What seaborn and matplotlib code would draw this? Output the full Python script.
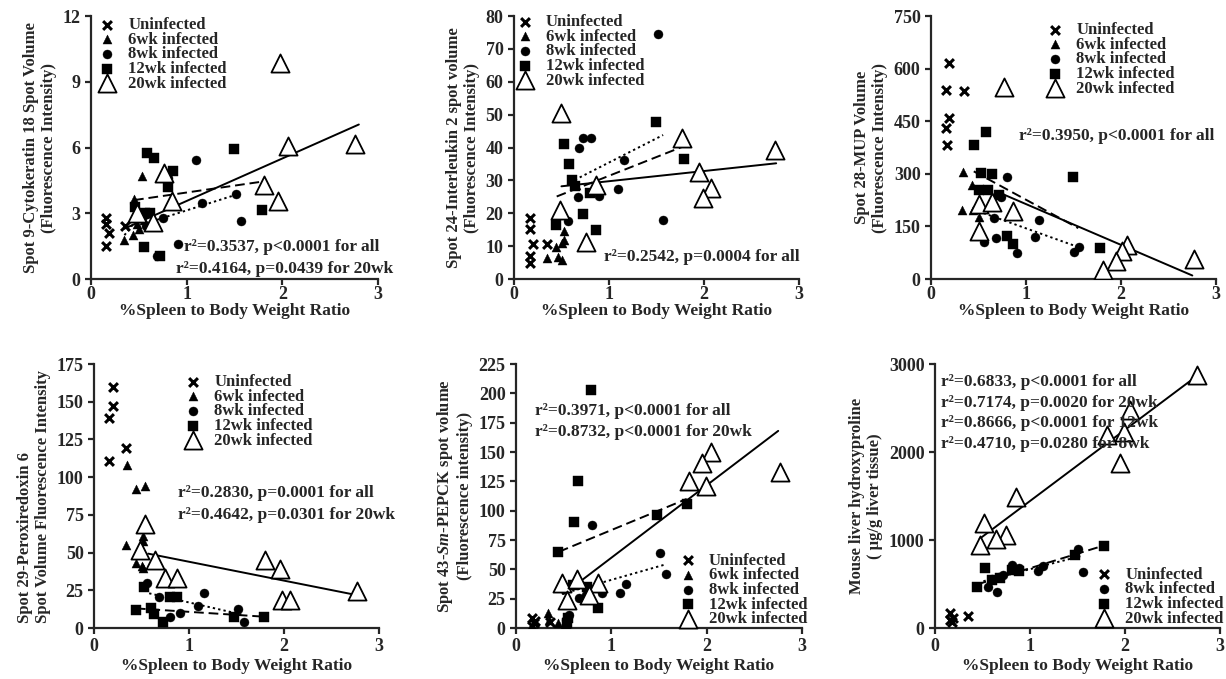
import matplotlib
matplotlib.use('Agg')
import matplotlib.pyplot as plt
import seaborn as sns

sns.set_style('ticks')
plt.rcParams['font.family'] = ['Liberation Serif', 'DejaVu Serif']
plt.rcParams['font.weight'] = 'bold'
plt.rcParams['axes.labelweight'] = 'bold'
plt.rcParams['mathtext.fontset'] = 'custom'
plt.rcParams['mathtext.rm'] = 'Liberation Serif:bold'
plt.rcParams['mathtext.it'] = 'Liberation Serif:italic:bold'
plt.rcParams['axes.linewidth'] = 1.6
plt.rcParams['xtick.major.width'] = 1.6
plt.rcParams['ytick.major.width'] = 1.6
plt.rcParams['xtick.major.size'] = 4
plt.rcParams['ytick.major.size'] = 4

groups = ['Uninfected', '6wk infected', '8wk infected', '12wk infected', '20wk infected']
xlabel = '%Spleen to Body Weight Ratio'

# ---- Spot 9 Cytokeratin 18 ----
k18_uninf_x = [0.16, 0.16, 0.19, 0.16, 0.36]
k18_uninf_y = [2.8, 2.5, 2.1, 1.5, 2.4]
k18_wk6_x = [0.35, 0.53, 0.45, 0.44, 0.50, 0.55, 0.48]
k18_wk6_y = [1.8, 4.7, 3.65, 2.0, 2.3, 2.7, 2.5]
k18_wk8_x = [1.10, 0.80, 0.75, 0.91, 1.16, 1.52, 1.57, 0.69, 0.58]
k18_wk8_y = [5.45, 4.6, 2.8, 1.6, 3.45, 3.9, 2.65, 1.05, 2.4]
k18_wk12_x = [0.59, 0.66, 0.86, 0.81, 1.49, 1.79, 0.55, 0.72, 0.46, 0.62, 0.56]
k18_wk12_y = [5.75, 5.5, 4.95, 4.2, 5.95, 3.15, 1.45, 1.05, 3.3, 3.0, 3.0]
k18_wk20_x = [1.98, 2.06, 2.76, 1.81, 1.96, 0.85, 0.76, 0.65, 0.48]
k18_wk20_y = [9.85, 6.05, 6.15, 4.3, 3.55, 3.55, 4.85, 2.6, 3.0]
k18_fits = [([0.35, 2.80], [2.3, 7.05], '-'),
            ([0.45, 1.80], [3.6, 4.45], '--'),
            ([0.58, 1.52], [2.55, 3.85], ':'),
            ([0.35, 0.55], [2.0, 3.1], ':')]

# ---- Spot 24 Interleukin 2 ----
il2_uninf_x = [0.17, 0.17, 0.20, 0.17, 0.17, 0.35]
il2_uninf_y = [18.5, 15.2, 10.6, 7.0, 5.0, 10.6]
il2_wk6_x = [0.35, 0.44, 0.53, 0.53, 0.51, 0.46, 0.51, 0.65]
il2_wk6_y = [6.3, 9.8, 14.5, 12.0, 11.0, 6.7, 5.7, 28.5]
il2_wk8_x = [1.52, 0.69, 0.73, 0.81, 1.16, 1.10, 0.67, 0.90, 0.57, 1.57]
il2_wk8_y = [74.4, 40.0, 43.0, 43.0, 36.3, 27.3, 24.8, 25.1, 17.5, 18.1]
il2_wk12_x = [1.49, 0.53, 0.58, 0.61, 0.80, 0.73, 0.86, 0.44, 1.79, 0.64]
il2_wk12_y = [47.9, 41.1, 35.0, 30.0, 26.3, 19.7, 14.8, 16.5, 36.5, 28.4]
il2_wk20_x = [0.50, 1.77, 2.75, 1.95, 2.07, 1.99, 0.86, 0.49, 0.76]
il2_wk20_y = [50.4, 42.8, 39.1, 32.4, 27.6, 24.5, 28.6, 21.0, 11.2]
il2_fits = [([0.50, 2.76], [28.2, 35.2], '-'),
            ([0.45, 1.78], [25.1, 40.3], '--'),
            ([0.59, 1.57], [29.4, 43.8], ':')]

# ---- Spot 28 MUP ----
mup_uninf_x = [0.19, 0.16, 0.35, 0.19, 0.16, 0.17]
mup_uninf_y = [615, 539, 535, 458, 430, 383]
mup_wk6_x = [0.34, 0.43, 0.33, 0.44, 0.49, 0.51, 0.51, 0.49]
mup_wk6_y = [306, 268, 197, 197, 216, 178, 202, 140]
mup_wk8_x = [0.80, 0.74, 0.66, 1.14, 0.56, 0.68, 0.90, 1.09, 1.51, 1.56]
mup_wk8_y = [290, 235, 173, 168, 106, 116, 75, 119, 78, 90]
mup_wk12_x = [0.53, 0.64, 1.49, 0.51, 0.60, 0.72, 0.45, 0.58, 0.80, 0.86, 1.78]
mup_wk12_y = [301, 299, 290, 254, 254, 240, 381, 418, 122, 101, 88]
mup_wk20_x = [0.77, 0.50, 0.64, 0.86, 0.51, 2.06, 2.01, 1.95, 1.81, 2.77]
mup_wk20_y = [547, 215, 221, 193, 136, 98, 79, 50, 27, 57]
mup_fits = [([0.73, 2.75], [245, 10], '-'),
            ([0.45, 1.55], [307, 145], '--'),
            ([0.50, 1.53], [193, 93], ':')]

# ---- Spot 29 Peroxiredoxin 6 ----
prx_uninf_x = [0.20, 0.20, 0.16, 0.16, 0.34]
prx_uninf_y = [160, 147, 139, 111, 119]
prx_wk6_x = [0.35, 0.44, 0.54, 0.34, 0.52, 0.52, 0.44, 0.51, 0.52, 0.74]
prx_wk6_y = [108, 92, 94, 55, 61, 58, 43, 41, 40, 32]
prx_wk8_x = [0.56, 0.68, 1.16, 1.09, 0.90, 0.80, 1.52, 1.58]
prx_wk8_y = [29.6, 20.8, 23.4, 14.8, 9.7, 7.5, 12.4, 4.2]
prx_wk12_x = [0.53, 0.80, 0.87, 0.44, 0.60, 0.63, 0.73, 1.47, 1.79]
prx_wk12_y = [27.4, 20.8, 20.8, 11.9, 13.0, 9.3, 4.2, 7.5, 7.5]
prx_wk20_x = [0.54, 0.48, 0.64, 0.75, 0.87, 1.80, 1.96, 1.98, 2.06, 2.77]
prx_wk20_y = [69, 51.7, 45.3, 33, 33, 45.3, 39, 18.3, 18.3, 24.7]
prx_fits = [([0.57, 2.75], [49.3, 22.0], '-'),
            ([0.44, 1.79], [13.0, 7.5], '--'),
            ([0.58, 1.55], [23.0, 9.0], ':')]

# ---- Spot 43 Sm-PEPCK ----
pck_uninf_x = [0.17, 0.19, 0.17, 0.36, 0.20]
pck_uninf_y = [8.5, 4.3, 2.0, 4.8, 6.0]
pck_wk6_x = [0.34, 0.35, 0.44, 0.53, 0.50, 0.52]
pck_wk6_y = [12.8, 7.0, 4.0, 1.4, 2.0, 6.0]
pck_wk8_x = [0.80, 1.51, 1.57, 1.15, 1.09, 0.90, 0.66, 0.73, 0.56, 0.52]
pck_wk8_y = [87.8, 63.6, 45.8, 37.5, 29.6, 29.6, 25.3, 28.0, 11.0, 6.8]
pck_wk12_x = [0.79, 0.65, 0.61, 0.44, 1.48, 1.79, 0.60, 0.74, 0.86, 0.53, 0.55]
pck_wk12_y = [203, 125, 90, 65, 96, 106, 36.4, 34.7, 17, 4.3, 8.5]
pck_wk20_x = [2.05, 1.95, 2.77, 1.81, 1.99, 0.48, 0.64, 0.86, 0.77, 0.53]
pck_wk20_y = [149.7, 140.6, 132.7, 125, 121.3, 38.4, 41.8, 38.4, 27.8, 23.6]
pck_fits = [([0.50, 2.75], [29, 168], '-'),
            ([0.45, 1.79], [65, 110], '--'),
            ([0.48, 1.56], [29, 54], ':')]

# ---- Liver hydroxyproline ----
hyp_uninf_x = [0.16, 0.19, 0.18, 0.35, 0.16]
hyp_uninf_y = [171, 114, 65, 133, 95]
hyp_wk8_x = [1.51, 1.56, 1.14, 1.08, 0.88, 0.81, 0.67, 0.65, 0.56, 0.72, 0.60]
hyp_wk8_y = [898, 631, 707, 643, 681, 719, 585, 414, 471, 600, 560]
hyp_wk12_x = [0.53, 0.44, 1.78, 1.47, 0.60, 0.68, 0.81, 0.88]
hyp_wk12_y = [681, 464, 935, 833, 547, 570, 661, 643]
hyp_wk20_x = [2.76, 2.05, 1.99, 1.81, 1.95, 0.85, 0.52, 0.75, 0.64, 0.47]
hyp_wk20_y = [2870, 2479, 2222, 2190, 1880, 1492, 1189, 1052, 1014, 938]
hyp_fits = [([0.47, 2.76], [1014, 2867], '-'),
            ([0.44, 1.78], [494, 938], '--'),
            ([0.51, 1.53], [532, 816], ':')]

styles = {
    'Uninfected': dict(marker='x', s=40, color='black', linewidth=2.2),
    '6wk infected': dict(marker='^', s=42, color='black', edgecolor='black', linewidth=0.3),
    '8wk infected': dict(marker='o', s=42, color='black', edgecolor='black', linewidth=0.3),
    '12wk infected': dict(marker='s', s=48, color='black', edgecolor='black', linewidth=0.3),
    '20wk infected': dict(marker='^', s=170, color='white', edgecolor='black', linewidth=1.3),
}
dash_styles = {'-': '-', '--': (0, (5, 2.5)), ':': (0, (1.2, 1.6))}


def draw_panel(ax, series, fits, ymax, ystep, ylabel, leg_xy, notes, note_xy,
               note_dy, ymulti='center', top_row=True):
    for name, xs, ys in series:
        sns.scatterplot(x=xs, y=ys, ax=ax, label=name, zorder=3, **styles[name])
    for fx, fy, ls in fits:
        sns.lineplot(x=fx, y=fy, ax=ax, color='black', linewidth=1.4,
                     linestyle=dash_styles[ls], legend=False, zorder=2)
    ax.set_xlim(0, 3)
    ax.set_ylim(0, ymax)
    ax.set_xticks([0, 1, 2, 3])
    ax.set_yticks(range(0, int(ymax) + 1, ystep))
    ax.tick_params(labelsize=13)
    ax.tick_params(axis='x', pad=1 if top_row else 3.5)
    ax.set_xlabel(xlabel, fontsize=12.5, labelpad=0 if top_row else 2)
    ax.set_ylabel(ylabel, fontsize=12, labelpad=4, multialignment=ymulti)
    sns.despine(ax=ax)
    ax.legend(loc='upper left', bbox_to_anchor=leg_xy, frameon=False,
              fontsize=12, handlelength=1.0, handletextpad=0.75,
              labelspacing=-0.08, borderpad=0, borderaxespad=0,
              scatterpoints=1)
    for i, t in enumerate(notes):
        nx = note_xy[0][i] if isinstance(note_xy[0], list) else note_xy[0]
        ax.text(nx, note_xy[1] - i * note_dy, t, transform=ax.transAxes,
                fontsize=12.5, ha='left', va='center')


fig = plt.figure(figsize=(12.26, 6.79), dpi=100)
ax1 = fig.add_axes([0.0742, 0.5891, 0.2341, 0.3873])
ax2 = fig.add_axes([0.4192, 0.5891, 0.2325, 0.3873])
ax3 = fig.add_axes([0.7594, 0.5891, 0.2325, 0.3873])
ax4 = fig.add_axes([0.0767, 0.0751, 0.2325, 0.3888])
ax5 = fig.add_axes([0.4209, 0.0751, 0.2333, 0.3888])
ax6 = fig.add_axes([0.7626, 0.0751, 0.2325, 0.3888])

draw_panel(ax1,
           [('Uninfected', k18_uninf_x, k18_uninf_y), ('6wk infected', k18_wk6_x, k18_wk6_y),
            ('8wk infected', k18_wk8_x, k18_wk8_y), ('12wk infected', k18_wk12_x, k18_wk12_y),
            ('20wk infected', k18_wk20_x, k18_wk20_y)],
           k18_fits, 12, 3,
           'Spot 9-Cytokeratin 18 Spot Volume\n(Fluorescence Intensity)',
           (0.028, 0.996),
           ['r²=0.3537, p<0.0001 for all', 'r²=0.4164, p=0.0439 for 20wk'],
           ([0.324, 0.296], 0.122), 0.084)

draw_panel(ax2,
           [('Uninfected', il2_uninf_x, il2_uninf_y), ('6wk infected', il2_wk6_x, il2_wk6_y),
            ('8wk infected', il2_wk8_x, il2_wk8_y), ('12wk infected', il2_wk12_x, il2_wk12_y),
            ('20wk infected', il2_wk20_x, il2_wk20_y)],
           il2_fits, 80, 10,
           'Spot 24-Interleukin 2 spot volume\n(Fluorescence Intensity)',
           (0.01, 1.008),
           ['r²=0.2542, p=0.0004 for all'],
           (0.316, 0.084), 0.08)

draw_panel(ax3,
           [('Uninfected', mup_uninf_x, mup_uninf_y), ('6wk infected', mup_wk6_x, mup_wk6_y),
            ('8wk infected', mup_wk8_x, mup_wk8_y), ('12wk infected', mup_wk12_x, mup_wk12_y),
            ('20wk infected', mup_wk20_x, mup_wk20_y)],
           mup_fits, 750, 150,
           'Spot 28-MUP Volume\n(Fluorescence Intensity)',
           (0.407, 0.977),
           ['r²=0.3950, p<0.0001 for all'],
           (0.309, 0.544), 0.08)

draw_panel(ax4,
           [('Uninfected', prx_uninf_x, prx_uninf_y), ('6wk infected', prx_wk6_x, prx_wk6_y),
            ('8wk infected', prx_wk8_x, prx_wk8_y), ('12wk infected', prx_wk12_x, prx_wk12_y),
            ('20wk infected', prx_wk20_x, prx_wk20_y)],
           prx_fits, 175, 25,
           'Spot 29-Peroxiredoxin 6\nSpot Volume Fluorescence Intensity',
           (0.319, 0.962),
           ['r²=0.2830, p=0.0001 for all', 'r²=0.4642, p=0.0301 for 20wk'],
           (0.295, 0.511), 0.083, ymulti='left', top_row=False)

draw_panel(ax5,
           [('Uninfected', pck_uninf_x, pck_uninf_y), ('6wk infected', pck_wk6_x, pck_wk6_y),
            ('8wk infected', pck_wk8_x, pck_wk8_y), ('12wk infected', pck_wk12_x, pck_wk12_y),
            ('20wk infected', pck_wk20_x, pck_wk20_y)],
           pck_fits, 225, 25,
           'Spot 43-$\\mathit{Sm}$-PEPCK spot volume\n(Fluorescence intensity)',
           (0.573, 0.285),
           ['r²=0.3971, p<0.0001 for all', 'r²=0.8732, p<0.0001 for 20wk'],
           (0.067, 0.822), 0.08, top_row=False)

draw_panel(ax6,
           [('Uninfected', hyp_uninf_x, hyp_uninf_y), ('8wk infected', hyp_wk8_x, hyp_wk8_y),
            ('12wk infected', hyp_wk12_x, hyp_wk12_y), ('20wk infected', hyp_wk20_x, hyp_wk20_y)],
           hyp_fits, 3000, 1000,
           'Mouse liver hydroxyproline\n( μg/g liver tissue)',
           (0.565, 0.232),
           ['r²=0.6833, p<0.0001 for all', 'r²=0.7174, p=0.0020 for 20wk',
            'r²=0.8666, p<0.0001 for 12wk', 'r²=0.4710, p=0.0280 for 8wk'],
           (0.021, 0.932), 0.078, top_row=False)

fig.savefig('out.png', dpi=100)
